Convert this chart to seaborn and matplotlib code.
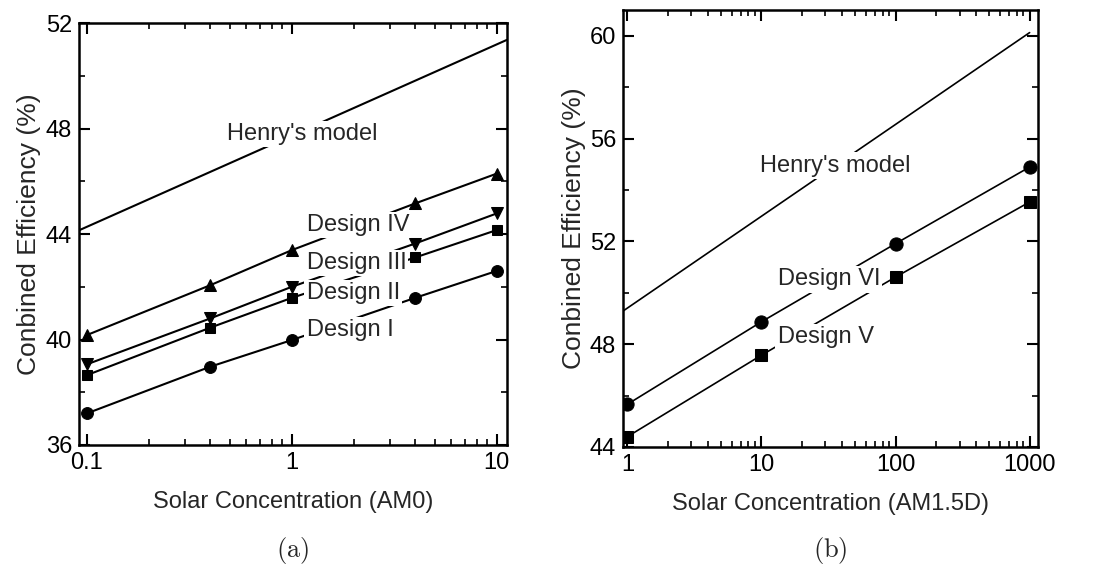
import matplotlib
matplotlib.use("Agg")
import matplotlib.pyplot as plt
from matplotlib.ticker import LogLocator, FixedLocator, FixedFormatter, MultipleLocator, NullFormatter
import seaborn as sns

# panel (a): AM0
conc_a = [0.1, 0.4, 1, 4, 10]
design_1 = [37.2, 38.97, 39.98, 41.58, 42.6]
design_2 = [38.65, 40.45, 41.58, 43.11, 44.15]
design_3 = [39.06, 40.8, 42.0, 43.64, 44.78]
design_4 = [40.17, 42.06, 43.39, 45.16, 46.29]
henry_a_x = [0.0914, 11.2]
henry_a_y = [44.14, 51.36]

# panel (b): AM1.5D
conc_b = [1, 10, 100, 1000]
design_5 = [44.4, 47.57, 50.61, 53.53]
design_6 = [45.66, 48.87, 51.91, 54.89]
henry_b_x = [0.93, 1000]
henry_b_y = [49.29, 60.12]

sns.set_style("ticks")
plt.rcParams["font.family"] = ["Liberation Sans", "DejaVu Sans"]
plt.rcParams["mathtext.fontset"] = "cm"

fig = plt.figure(figsize=(10.97, 5.70), dpi=100)
ax1 = fig.add_axes([0.072, 0.2193, 0.390, 0.7403])
ax2 = fig.add_axes([0.568, 0.2158, 0.378, 0.7667])

lw = 1.5
box = dict(facecolor="white", edgecolor="none", pad=1.5)

# --- panel (a)
sns.lineplot(x=henry_a_x, y=henry_a_y, ax=ax1, color="black", linewidth=lw)
for ys, mk, ms in [(design_1, "o", 8.5), (design_2, "s", 7.5),
                   (design_3, "v", 9), (design_4, "^", 9)]:
    sns.lineplot(x=conc_a, y=ys, ax=ax1, color="black", linewidth=lw,
                 marker=mk, markersize=ms, markeredgecolor="black")

ax1.text(0.48, 47.8, "Henry's model", fontsize=17, va="center", bbox=box)
ax1.text(1.18, 44.35, "Design IV", fontsize=17, va="center", bbox=box)
ax1.text(1.18, 42.9, "Design III", fontsize=17, va="center", bbox=box)
ax1.text(1.18, 41.75, "Design II", fontsize=17, va="center", bbox=box)
ax1.text(1.18, 40.35, "Design I", fontsize=17, va="center", bbox=box)

ax1.set_xscale("log")
ax1.set_xlim(0.0914, 11.2)
ax1.set_ylim(36, 52)
ax1.xaxis.set_major_locator(FixedLocator([0.1, 1, 10]))
ax1.xaxis.set_major_formatter(FixedFormatter(["0.1", "1", "10"]))
ax1.xaxis.set_minor_locator(LogLocator(base=10, subs=range(2, 10)))
ax1.xaxis.set_minor_formatter(NullFormatter())
ax1.yaxis.set_major_locator(MultipleLocator(4))
ax1.yaxis.set_minor_locator(MultipleLocator(2))
ax1.set_xlabel("Solar Concentration (AM0)", fontsize=17, labelpad=12)
ax1.set_ylabel("Conbined Efficiency (%)", fontsize=19, labelpad=3)

# --- panel (b)
sns.lineplot(x=henry_b_x, y=henry_b_y, ax=ax2, color="black", linewidth=1.2)
for ys, mk, ms in [(design_5, "s", 8.5), (design_6, "o", 9.5)]:
    sns.lineplot(x=conc_b, y=ys, ax=ax2, color="black", linewidth=1.2,
                 marker=mk, markersize=ms, markeredgecolor="black")

ax2.text(9.8, 54.95, "Henry's model", fontsize=17, va="center", bbox=box)
ax2.text(13.2, 50.52, "Design VI", fontsize=17, va="center", bbox=box)
ax2.text(13.2, 48.27, "Design V", fontsize=17, va="center", bbox=box)

ax2.set_xscale("log")
ax2.set_xlim(0.93, 1150)
ax2.set_ylim(44, 61)
ax2.xaxis.set_major_locator(FixedLocator([1, 10, 100, 1000]))
ax2.xaxis.set_major_formatter(FixedFormatter(["1", "10", "100", "1000"]))
ax2.xaxis.set_minor_locator(LogLocator(base=10, subs=range(2, 10)))
ax2.xaxis.set_minor_formatter(NullFormatter())
ax2.yaxis.set_major_locator(MultipleLocator(4))
ax2.yaxis.set_minor_locator(MultipleLocator(2))
ax2.set_xlabel("Solar Concentration (AM1.5D)", fontsize=17, labelpad=12)
ax2.set_ylabel("Conbined Efficiency (%)", fontsize=19, labelpad=3)

for ax in (ax1, ax2):
    for s in ax.spines.values():
        s.set_visible(True)
        s.set_linewidth(1.8)
        s.set_color("black")
    ax.tick_params(which="both", direction="in", top=True, right=True,
                   colors="black", labelsize=17, pad=5)
    ax.tick_params(which="major", length=8, width=1.5)
    ax.tick_params(which="minor", length=4, width=1.2)

fig.text(0.267, 0.035, r"$\mathrm{(a)}$", fontsize=19, ha="center", va="center")
fig.text(0.757, 0.035, r"$\mathrm{(b)}$", fontsize=19, ha="center", va="center")

fig.savefig("out.png", dpi=100)
